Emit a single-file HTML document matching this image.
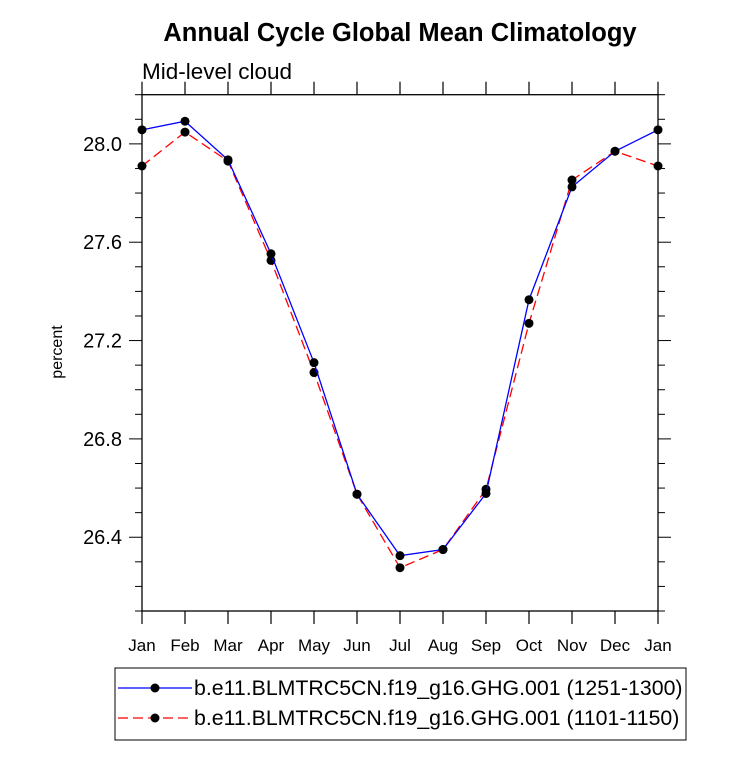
<!DOCTYPE html>
<html><head><meta charset="utf-8"><style>
body{margin:0;background:#fff}
svg{display:block;font-family:"Liberation Sans",sans-serif}
</style></head><body>
<svg width="733" height="760">
<text x="400" y="41" text-anchor="middle" font-size="25.5" font-weight="bold">Annual Cycle Global Mean Climatology</text>
<text x="142" y="79" font-size="22.5">Mid-level cloud</text>
<text transform="translate(62,352) rotate(-90)" text-anchor="middle" font-size="16">percent</text>
<g id="axes"></g>
<g id="series"></g>
<g>
<rect x="115" y="668" width="571" height="72" fill="none" stroke="#000" stroke-width="1"/>
<g>
<line x1="118" y1="688" x2="192" y2="688" stroke="#00f" stroke-width="1.3"/>
<circle cx="155" cy="688" r="4.5" fill="#000"/>
<text x="194" y="695" font-size="21.3">b.e11.BLMTRC5CN.f19_g16.GHG.001 (1251-1300)</text>
</g>
<g>
<line x1="118" y1="718" x2="192" y2="718" stroke="#f00" stroke-width="1.3" stroke-dasharray="10,5"/>
<circle cx="155" cy="718" r="4.5" fill="#000"/>
<text x="194" y="725" font-size="21.3">b.e11.BLMTRC5CN.f19_g16.GHG.001 (1101-1150)</text>
</g>
</g>
</svg>
<script>
const months=["Jan","Feb","Mar","Apr","May","Jun","Jul","Aug","Sep","Oct","Nov","Dec","Jan"];
const seriesA=[28.057,28.092,27.935,27.553,27.11,26.575,26.325,26.35,26.578,27.366,27.825,27.97,28.057];
const seriesB=[27.91,28.048,27.93,27.526,27.07,26.575,26.276,26.35,26.595,27.27,27.853,27.97,27.91];
const yTicks=["26.4","26.8","27.2","27.6","28.0"];
const yMin=26.1,yMax=28.2;
const L=142,R=658,T=94.7,B=611;
const xs=i=>L+(R-L)*i/12;
const ys=v=>B-(v-yMin)/(yMax-yMin)*(B-T);
const NS="http://www.w3.org/2000/svg";
function mk(tag,attrs,parent){const e=document.createElementNS(NS,tag);for(const k in attrs)e.setAttribute(k,attrs[k]);parent.appendChild(e);return e;}
const ax=document.getElementById('axes');
const frame=mk('rect',{x:L,y:T,width:R-L,height:B-T,fill:'none',stroke:'#000','stroke-width':1.3},ax);


months.forEach((m,i)=>{
  const x=xs(i);
  mk('line',{x1:x,y1:B,x2:x,y2:B+13,stroke:'#000','stroke-width':1.2},ax);
  mk('line',{x1:x,y1:T,x2:x,y2:T-13,stroke:'#000','stroke-width':1.2},ax);
  const t=mk('text',{x:x,y:B+40,'text-anchor':'middle','font-size':17},ax);
  t.textContent=m;
  
  
});
for(let k=0;k<=21;k++){
  const v=yMin+k*0.1;const y=ys(v);
  const major=Math.abs((v*10)%4-0)<0.01||Math.abs((v*10)%4-4)<0.01;
  const len=major?13:7;
  mk('line',{x1:L-len,y1:y,x2:L,y2:y,stroke:'#000','stroke-width':1},ax);
  mk('line',{x1:R,y1:y,x2:R+len,y2:y,stroke:'#000','stroke-width':1},ax);
}
yTicks.forEach(s=>{
  const y=ys(parseFloat(s));
  const t=mk('text',{x:L-20,y:y+7,'text-anchor':'end','font-size':20},ax);
  t.textContent=s;
  
  
});
const sg=document.getElementById('series');
function draw(vals,color,dash,name){
  const pts=vals.map((v,i)=>xs(i)+','+ys(v)).join(' ');
  const pl=mk('polyline',{points:pts,fill:'none',stroke:color,'stroke-width':1.3},sg);
  if(dash)pl.setAttribute('stroke-dasharray',dash);
  
  
  vals.forEach((v,i)=>{
    const c=mk('circle',{cx:xs(i),cy:ys(v),r:4.5,fill:'#000'},sg);
    
    
  });
}
draw(seriesB,'#f00','10,5','series-1101-1150');
draw(seriesA,'#00f',null,'series-1251-1300');
</script>
</body></html>
